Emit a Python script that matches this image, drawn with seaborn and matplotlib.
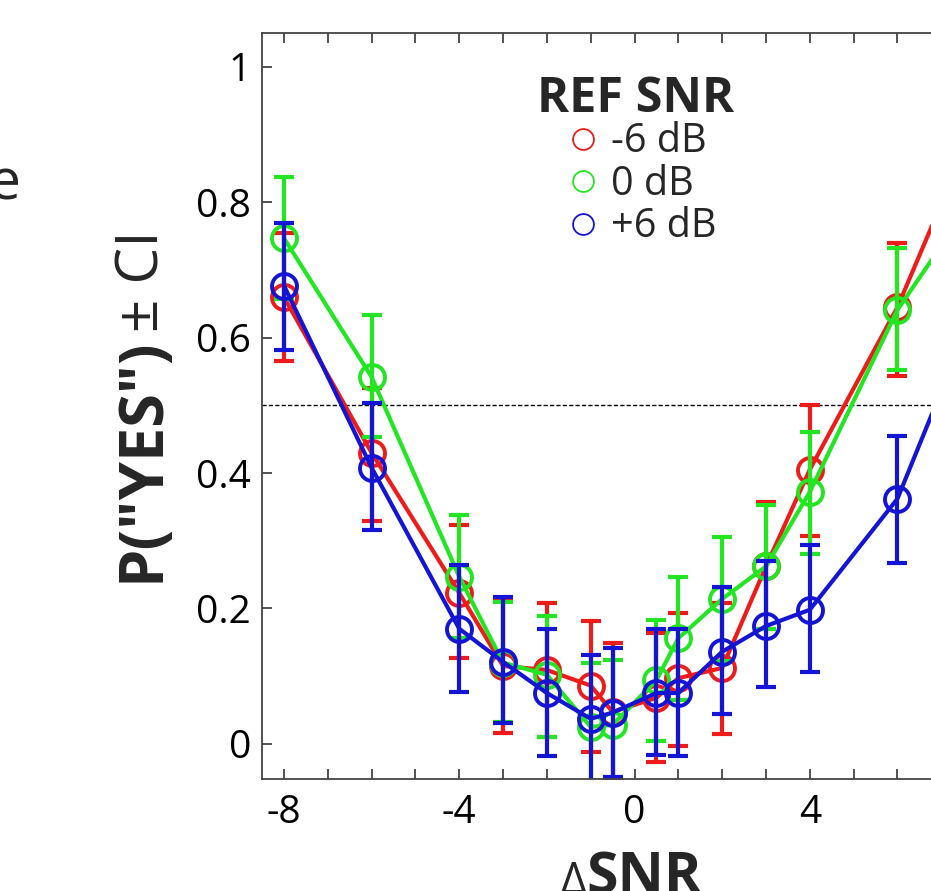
import numpy as np
import matplotlib
matplotlib.use("Agg")
import matplotlib.pyplot as plt
import seaborn as sns
from matplotlib.lines import Line2D

# ---------------- data ----------------
delta_snr = [-8, -6, -4, -3, -2, -1, -0.5, 0.5, 1, 2, 3, 4, 6, 8]
series_labels = ["-6 dB", "0 dB", "+6 dB"]
legend_title = "REF SNR"

p_m6 = [0.660, 0.430, 0.223, 0.115, 0.109, 0.086, 0.047, 0.068, 0.097, 0.112, 0.262, 0.405, 0.645, 0.950]
lo_m6 = [0.566, 0.329, 0.127, 0.016, 0.010, -0.012, -0.055, -0.027, -0.003, 0.015, 0.170, 0.307, 0.544, 0.900]
hi_m6 = [0.755, 0.526, 0.323, 0.214, 0.208, 0.182, 0.149, 0.163, 0.193, 0.208, 0.357, 0.501, 0.740, 1.000]

p_0 = [0.747, 0.542, 0.247, 0.120, 0.102, 0.025, 0.028, 0.094, 0.156, 0.214, 0.262, 0.372, 0.641, 0.830]
lo_0 = [0.657, 0.453, 0.157, 0.032, 0.010, -0.070, -0.068, 0.004, 0.065, 0.122, 0.170, 0.280, 0.552, 0.750]
hi_0 = [0.837, 0.634, 0.338, 0.210, 0.189, 0.120, 0.124, 0.183, 0.247, 0.306, 0.353, 0.461, 0.733, 0.910]

p_p6 = [0.677, 0.408, 0.170, 0.121, 0.075, 0.037, 0.046, 0.075, 0.075, 0.136, 0.174, 0.198, 0.362, 0.680]
lo_p6 = [0.582, 0.316, 0.077, 0.030, -0.018, -0.058, -0.049, -0.016, -0.018, 0.044, 0.084, 0.106, 0.267, 0.590]
hi_p6 = [0.770, 0.503, 0.264, 0.217, 0.170, 0.131, 0.142, 0.170, 0.170, 0.232, 0.270, 0.294, 0.455, 0.770]

x_ticks = [-8, -4, 0, 4]
x_ticklabels = ["-8", "-4", "0", "4"]
y_ticks = [0, 0.2, 0.4, 0.6, 0.8, 1]
y_ticklabels = ["0", "0.2", "0.4", "0.6", "0.8", "1"]
chance_level = 0.5

# ---------------- style ----------------
sns.set_theme(style="ticks")
plt.rcParams["font.family"] = ["Open Sans", "DejaVu Sans"]

W, H = 931, 891
fig = plt.figure(figsize=(W / 100, H / 100), dpi=100)


def fx(px):
    return px / W


def fy(py):
    return 1 - py / H


ax = fig.add_axes([fx(262), fy(779), (1007 - 262) / W, (779 - 33) / H])

colors = ["#ee1b1b", "#22e622", "#1414d4"]
ys = [p_m6, p_0, p_p6]
los = [lo_m6, lo_0, lo_p6]
his = [hi_m6, hi_0, hi_p6]

ax.axhline(chance_level, color="black", lw=1.0, ls=(0, (3, 1.6)), zorder=1)

z = 2.0
for lab, y, lo, hi, c in zip(series_labels, ys, los, his, colors):
    y = np.asarray(y)
    lo = np.asarray(lo)
    hi = np.asarray(hi)
    ax.errorbar(delta_snr, y, yerr=[y - lo, hi - y], fmt="none", ecolor=c,
                elinewidth=3, capsize=7.5, capthick=3, zorder=z)
    sns.lineplot(x=delta_snr, y=y, ax=ax, color=c, lw=3, marker="o",
                 markersize=18, markerfacecolor="none", markeredgecolor=c,
                 markeredgewidth=2.8, errorbar=None, legend=False, sort=False,
                 zorder=z + 0.1)
    z += 0.2

ax.set_xlim(-8.5, 8.5)
ax.set_ylim(-0.052, 1.05)
ax.set_xticks(x_ticks, x_ticklabels)
ax.set_xticks(range(-8, 9), minor=True)
ax.set_yticks(y_ticks, y_ticklabels)
ax.tick_params(which="both", direction="in", top=True, right=True,
               length=7, width=1.2, color="#333333")
ax.tick_params(which="major", labelsize=28, labelcolor="black")
ax.tick_params(axis="x", which="major", pad=11)
ax.tick_params(axis="y", which="major", pad=8)
ax.set_xlabel("")
ax.set_ylabel("")
for s in ax.spines.values():
    s.set_color("#444444")
    s.set_linewidth(1.3)

# legend (title drawn as separate bold text for exact placement)
handles = [Line2D([], [], ls="none", marker="o", ms=15, mfc="none", mec=c, mew=1.3)
           for c in colors]
leg = ax.legend(handles, series_labels, loc="upper left",
                bbox_to_anchor=(fx(567), fy(122)), bbox_transform=fig.transFigure,
                frameon=False, fontsize=28.5,
                handlelength=0.8, handletextpad=0.3, labelspacing=0.05,
                borderpad=0, borderaxespad=0)
fig.text(fx(537), fy(112), legend_title, ha="left", va="baseline",
         fontsize=35, fontweight="bold")

# axis labels
fig.text(fx(143), fy(582), 'P("YES")', rotation=90, rotation_mode="anchor",
         ha="left", va="center", fontsize=44, fontweight="bold")
fig.text(fx(143), fy(332), "± CI", rotation=90, rotation_mode="anchor",
         ha="left", va="center", fontsize=42)
fig.text(fx(586), fy(893), "SNR", ha="left", va="baseline", fontsize=41,
         fontweight="bold")
fig.text(fx(586), fy(893), "Δ", ha="right", va="baseline", fontsize=32)

# partial text from neighbouring panel
fig.text(fx(20.5), fy(200), "e", ha="right", va="baseline", fontsize=41)

fig.savefig("out.png", dpi=100)
